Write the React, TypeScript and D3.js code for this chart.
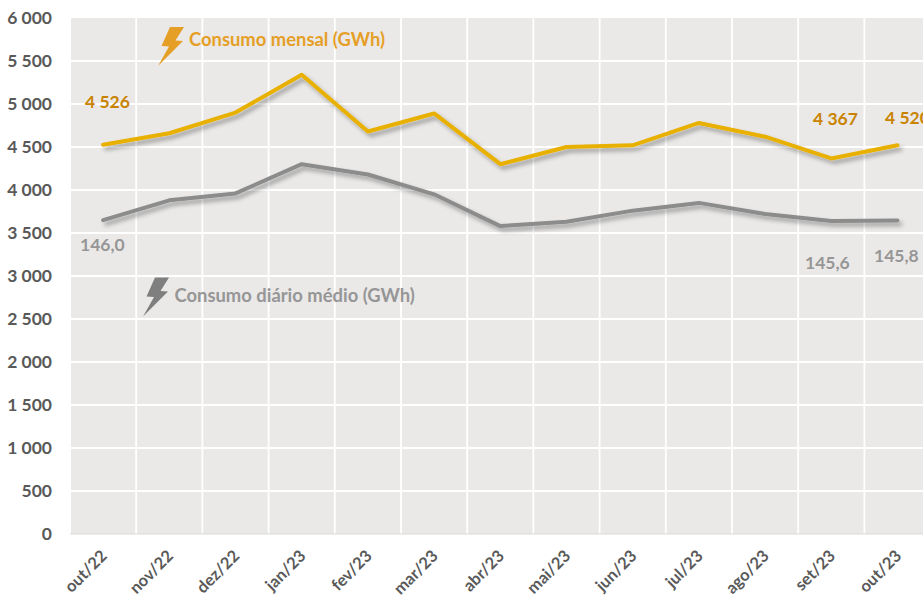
import React from "react";
import * as d3 from "d3";

const categories = ["out/22","nov/22","dez/22","jan/23","fev/23","mar/23","abr/23","mai/23","jun/23","jul/23","ago/23","set/23","out/23"];
const mensal = [4526,4660,4900,5340,4680,4890,4300,4500,4520,4780,4620,4367,4520];
const diario = [3650,3880,3960,4300,4180,3950,3580,3630,3760,3850,3720,3640,3645];
const yTicks = [0,500,1000,1500,2000,2500,3000,3500,4000,4500,5000,5500,6000];
const gold = "#E8B000", gray = "#8C8C8C", goldText = "#C98300", legendGold = "#E59F26", grayText = "#969696", axisText = "#595959";
const font = "Lato, Carlito, sans-serif";

const W = 923, H = 597;
const y = d3.scaleLinear().domain([0, 6000]).range([534, 18]);
const x = d3.scaleBand<string>().domain(categories).range([70, 70 + 66.2 * 13]);
const cx = (i: number) => (x(categories[i]) as number) + x.bandwidth() / 2;
const line = d3.line<number>().x((_, i) => cx(i)).y(d => y(d)).curve(d3.curveLinear);
const fmt = (v: number) => v === 0 ? "0" : d3.format(",")(v).replace(",", " ");
const bolt = "M170,27 L184,27 L175.5,40.5 L183,41 L158,66 L169,46.5 L161.5,46 Z";

export default function App() {
  return (
    <svg width={W} height={H} style={{ position: "absolute", left: 0, top: 0, background: "#fff" }} fontFamily={font} fontWeight={700}>
      <defs>
        <filter id="sh" x="-5%" y="-20%" width="110%" height="150%">
          <feDropShadow dx="3" dy="3.5" stdDeviation="2" floodColor="#000" floodOpacity="0.33" />
        </filter>
      </defs>
      <rect x={71} y={y(6000)} width={W - 71} height={y(0) - y(6000)} fill="#EAE9E8" />
      {yTicks.filter(t => t > 0 && t < 6000).map(t => (
        <line key={t} x1={71} x2={W} y1={y(t)} y2={y(t)} stroke="#fff" strokeWidth={1.8} />
      ))}
      {categories.slice(0, -1).map(c => {
        const px = (x(c) as number) + x.bandwidth();
        return <line key={c} x1={px} x2={px} y1={y(6000)} y2={y(0)} stroke="#fff" strokeWidth={1.8} />;
      })}
      <line x1={70} x2={W} y1={y(0)} y2={y(0)} stroke="#D9D9D9" strokeWidth={1} />
      {yTicks.map(t => (
        <text key={t} x={52} y={y(t) + 6} textAnchor="end" fontSize={17.5} fill={axisText}>{fmt(t)}</text>
      ))}
      {categories.map((c, i) => (
        <text key={c + i} transform={`translate(${cx(i) - 2},${550}) rotate(-45)`} textAnchor="end" dy="0.6em" fontSize={16.5} fill={axisText}>{c}</text>
      ))}
      <path d={line(diario) as string} fill="none" stroke={gray} strokeWidth={4} strokeLinejoin="round" strokeLinecap="round" filter="url(#sh)" />
      <path d={line(mensal) as string} fill="none" stroke={gold} strokeWidth={4} strokeLinejoin="round" strokeLinecap="round" filter="url(#sh)" />
      <path d={bolt} fill={legendGold} />
      <path d={bolt} fill="#7F7F7F" transform="translate(-15,250.5)" />
      <text x={189} y={46} fontSize={18.4} fill={legendGold}>Consumo mensal (GWh)</text>
      <text x={174.5} y={302} fontSize={18.4} fill={grayText}>Consumo diário médio (GWh)</text>
      <text x={85} y={108} fontSize={17.5} fill={goldText}>4 526</text>
      <text x={813} y={125} fontSize={17.5} fill={goldText}>4 367</text>
      <text x={885} y={123.5} fontSize={17.5} fill={goldText}>4 520</text>
      <text x={80} y={251} fontSize={17.5} fill={grayText}>146,0</text>
      <text x={805} y={269} fontSize={17.5} fill={grayText}>145,6</text>
      <text x={874} y={261.5} fontSize={17.5} fill={grayText}>145,8</text>
    </svg>
  );
}
